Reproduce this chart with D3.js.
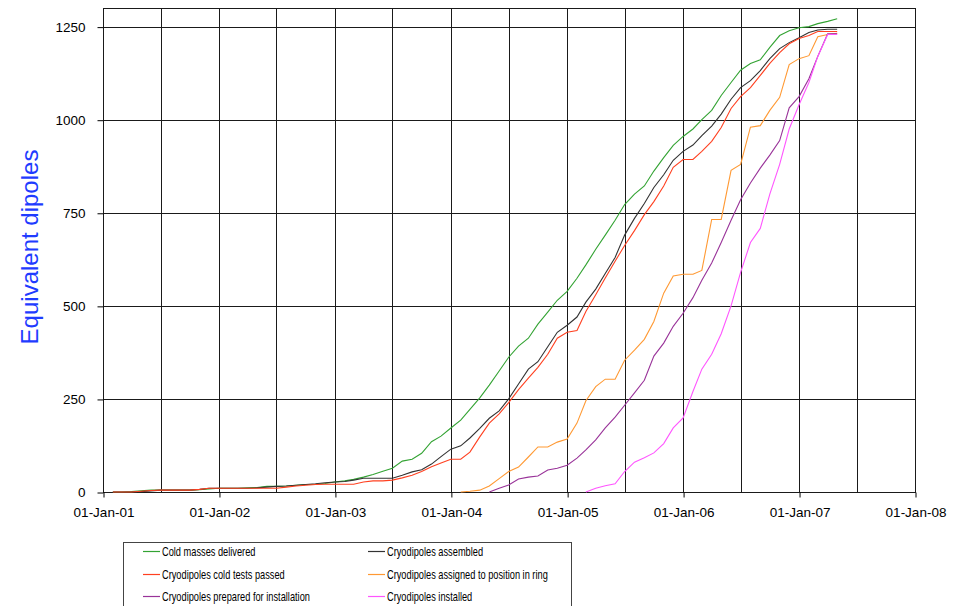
<!DOCTYPE html>
<html>
<head>
<meta charset="utf-8">
<script src="https://cdn.jsdelivr.net/npm/d3@7"></script>
<style>
  body { margin: 0; background: #fff; }
  svg { display: block; font-family: "Liberation Sans", Arial, sans-serif; }
</style>
</head>
<body>
<svg id="chart" width="956" height="606"></svg>
<script>
// monthly cumulative counts
const coldMassesStart = '2001-02-01'
const coldMasses = [0, 0, 1, 3, 5, 5, 5, 5, 5, 6, 8, 10, 10, 10, 11, 12, 15, 15, 16, 18,
  20, 21, 23, 27, 30, 34, 40, 47, 56, 64, 83, 88, 104, 135, 150, 172, 193, 222, 253, 287,
  325, 362, 392, 413, 451, 483, 515, 539, 574, 610, 652, 690, 730, 772, 800, 822, 862, 898, 931, 955,
  975, 1000, 1025, 1065, 1100, 1133, 1151, 1161, 1194, 1226, 1239, 1247, 1250, 1258, 1264, 1271]

const assembledStart = '2001-02-01'
const assembled = [0, 0, 0, 1, 3, 5, 5, 5, 5, 7, 10, 10, 10, 10, 10, 11, 13, 15, 16, 18,
  20, 22, 25, 27, 28, 32, 37, 37, 37, 37, 45, 54, 60, 75, 95, 115, 124, 145, 171, 198,
  218, 250, 290, 330, 350, 390, 429, 448, 470, 510, 545, 587, 630, 690, 735, 775, 818, 852, 891, 915,
  932, 957, 983, 1015, 1055, 1086, 1105, 1132, 1164, 1191, 1207, 1220, 1234, 1241, 1243, 1243]

const coldTestsStart = '2001-02-01'
const coldTests = [0, 0, 0, 2, 4, 5, 5, 5, 5, 7, 10, 10, 10, 10, 10, 10, 10, 10, 13, 16,
  18, 20, 21, 21, 21, 21, 27, 30, 30, 32, 38, 45, 55, 68, 78, 88, 88, 107, 148, 185,
  210, 240, 275, 306, 335, 370, 413, 429, 434, 485, 530, 575, 620, 662, 702, 745, 780, 822, 872, 893,
  893, 915, 942, 979, 1030, 1062, 1086, 1119, 1151, 1180, 1204, 1218, 1226, 1237, 1237, 1237]

const assignedStart = '2004-02-01'
const assigned = [0, 2, 5, 16, 36, 55, 67, 94, 121, 121, 134, 142, 185, 245, 283, 303, 303, 354, 381, 410,
  458, 534, 580, 585, 585, 595, 732, 732, 864, 880, 980, 984, 1025, 1060, 1148, 1164, 1172, 1223, 1229, 1232]

const preparedStart = '2004-05-01'
const prepared = [0, 10, 19, 35, 40, 43, 59, 64, 72, 91, 113, 140, 172, 201, 233, 266, 300, 365, 400, 445,
  480, 522, 569, 615, 670, 730, 785, 830, 870, 905, 944, 1032, 1062, 1110, 1170, 1231, 1231]

const installedStart = '2005-03-01'
const installed = [0, 10, 17, 22, 55, 80, 92, 105, 130, 172, 199, 270, 330, 370, 425, 500, 590, 670, 708, 800,
  880, 975, 1040, 1100, 1170, 1229, 1229]

const seriesNames = ['Cold masses delivered', 'Cryodipoles assembled', 'Cryodipoles cold tests passed',
  'Cryodipoles assigned to position in ring', 'Cryodipoles prepared for installation', 'Cryodipoles installed']
const seriesColors = ['#33a333', '#333333', '#ff4020', '#ff9933', '#993399', '#ff55ff']
const seriesValues = [coldMasses, assembled, coldTests, assigned, prepared, installed]
const seriesStarts = [coldMassesStart, assembledStart, coldTestsStart, assignedStart, preparedStart, installedStart]

const yTicks = [0, 250, 500, 750, 1000, 1250]
const yTitle = 'Equivalent dipoles'

const svg = d3.select('#chart')
const plotLeft = 103, plotRight = 915, plotTop = 8, plotBottom = 492

const x = d3.scaleTime()
  .domain([new Date(2001, 0, 1), new Date(2008, 0, 1)])
  .range([plotLeft, plotRight])
const y = d3.scaleLinear()
  .domain([0, 1300])
  .range([plotBottom, plotTop])

const parse = d3.timeParse('%Y-%m-%d')
const series = seriesNames.map((name, i) => {
  const start = parse(seriesStarts[i])
  return {
    name,
    color: seriesColors[i],
    points: seriesValues[i].map((v, j) => ({ date: d3.timeMonth.offset(start, j), value: v }))
  }
})

// grid: half-year verticals, 250 horizontals
const halfYears = d3.timeMonth.every(6).range(new Date(2001, 0, 1), new Date(2008, 0, 2))
svg.append('g')
  .selectAll('line')
  .data(halfYears)
  .enter()
  .append('line')
  .attr('x1', d => Math.round(x(d)) + 0.5)
  .attr('x2', d => Math.round(x(d)) + 0.5)
  .attr('y1', plotTop)
  .attr('y2', plotBottom)
  .style('stroke', '#1a1a1a')
  .style('stroke-width', 1)

svg.append('g')
  .selectAll('line')
  .data(yTicks.concat([1300]))
  .enter()
  .append('line')
  .attr('x1', plotLeft)
  .attr('x2', plotRight + 1)
  .attr('y1', d => Math.round(y(d)) + 0.5)
  .attr('y2', d => Math.round(y(d)) + 0.5)
  .style('stroke', '#1a1a1a')
  .style('stroke-width', 1)

// axes
const xAxis = d3.axisBottom(x)
  .tickValues(d3.timeYear.range(new Date(2001, 0, 1), new Date(2008, 0, 2)))
  .tickFormat(d3.timeFormat('%d-%b-%y'))
  .tickSize(5)
  .tickPadding(10)

const gx = svg.append('g')
  .attr('transform', `translate(0.5, ${Math.round(y(0)) + 0.5})`)
  .call(xAxis)
gx.select('.domain').remove()
gx.selectAll('.tick line').style('stroke', '#000')
gx.selectAll('text')
  .style('font-size', '13.5px')
  .style('font-family', '"Liberation Sans", Arial, sans-serif')
  .style('fill', '#000')

const yAxis = d3.axisLeft(y)
  .tickValues(yTicks)
  .tickFormat(d3.format('d'))
  .tickSize(6)
  .tickPadding(12)

const gy = svg.append('g')
  .attr('transform', `translate(${plotLeft + 0.5}, 0.5)`)
  .call(yAxis)
gy.select('.domain').remove()
gy.selectAll('.tick line').style('stroke', '#000')
gy.selectAll('text')
  .style('font-size', '13.5px')
  .style('font-family', '"Liberation Sans", Arial, sans-serif')
  .style('fill', '#000')

svg.append('text')
  .attr('transform', `translate(38, 247) rotate(-90)`)
  .attr('text-anchor', 'middle')
  .style('font-size', '24px')
  .style('fill', '#1f3cff')
  .text(yTitle)

// lines
const line = d3.line()
  .x(d => x(d.date))
  .y(d => y(d.value))

svg.append('g')
  .selectAll('path')
  .data(series)
  .enter()
  .append('path')
  .attr('d', d => line(d.points))
  .style('fill', 'none')
  .style('stroke', d => d.color)
  .style('stroke-width', 1.1)

// legend
const legend = svg.append('g').attr('class', 'legend-container')
legend.append('rect')
  .attr('x', 123.5)
  .attr('y', 542.5)
  .attr('width', 448)
  .attr('height', 80)
  .style('fill', '#fff')
  .style('stroke', '#444')
  .style('stroke-width', 1)

const rowY = [551, 574, 596]
const colX = [143, 368]
const items = legend.selectAll('g.item')
  .data(series)
  .enter()
  .append('g')
  .attr('class', 'item')
  .attr('transform', (d, i) => `translate(${colX[i % 2]}, ${rowY[Math.floor(i / 2)]})`)

items.append('line')
  .attr('x1', 0)
  .attr('x2', 17)
  .attr('y1', 0.5)
  .attr('y2', 0.5)
  .style('stroke', d => d.color)
  .style('stroke-width', 1.2)

// narrow face is not installed, so squeeze the regular one
items.append('text')
  .attr('transform', 'translate(19, 4.5) scale(0.74, 1)')
  .style('font-family', '"Liberation Sans", Arial, sans-serif')
  .style('font-size', '12.5px')
  .style('fill', '#000')
  .text(d => d.name)
</script>
</body>
</html>
